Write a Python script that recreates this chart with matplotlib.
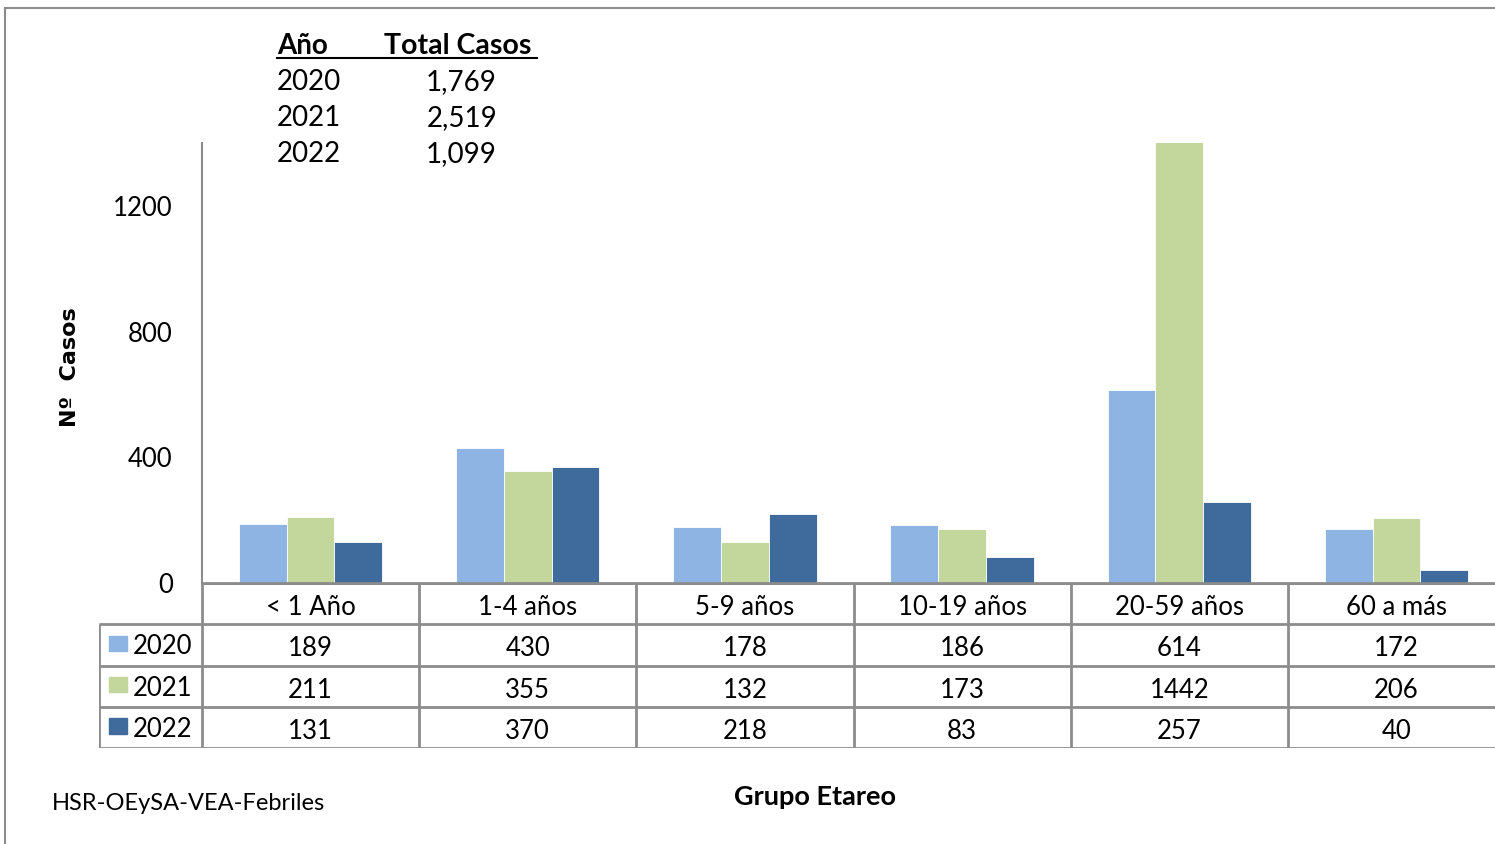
import numpy as np
import matplotlib.pyplot as plt
from matplotlib.lines import Line2D
from matplotlib.patches import Rectangle

# data
grupos = ['< 1 Año', '1-4 años', '5-9 años', '10-19 años', '20-59 años', '60 a más']
anios = ['2020', '2021', '2022']
casos_2020 = [189, 430, 178, 186, 614, 172]
casos_2021 = [211, 355, 132, 173, 1442, 206]
casos_2022 = [131, 370, 218, 83, 257, 40]
totales = ['1,769', '2,519', '1,099']
colores = ['#8EB4E3', '#C3D69B', '#3F6A9C']

plt.rcParams['font.family'] = ['Lato', 'DejaVu Sans']

W, H = 1495, 844
fig = plt.figure(figsize=(W / 100, H / 100), dpi=100)

def fx(px):
    return px / W

def fy(py):
    return 1 - py / H

# outer frame (top and left edges visible)
grey = '#8C8C8C'
fig.add_artist(Line2D([fx(5), 1], [fy(8), fy(8)], color=grey, lw=1.5))
fig.add_artist(Line2D([fx(5), fx(5)], [fy(8), 0], color=grey, lw=1.5))

# main chart
x0, x1 = 202, 1505
ytop, ybot = 143, 583
ax = fig.add_axes([fx(x0), fy(ybot), fx(x1 - x0), (ybot - ytop) / H])
series = [casos_2020, casos_2021, casos_2022]
x = np.arange(len(grupos))
bw = 0.22
for i, (vals, c) in enumerate(zip(series, colores)):
    ax.bar(x + (i - 1) * bw, vals, width=bw, color=c, edgecolor='white', linewidth=0.6)
ax.set_xlim(-0.5, len(grupos) - 0.5)
ax.set_ylim(0, 1400)
ax.set_yticks([0, 400, 800, 1200])
ax.set_yticklabels(['0', '400', '800', '1200'], fontsize=18.5)
ax.tick_params(axis='y', length=0, pad=21)
ax.set_xticks([])
for s in ['top', 'right']:
    ax.spines[s].set_visible(False)
ax.spines['left'].set_color(grey)
ax.spines['bottom'].set_color(grey)
ax.spines['left'].set_linewidth(1.5)
ax.spines['bottom'].set_linewidth(2)

# data table under the chart
tl, tt, tb = 99, 583, 748
lab_w = (x0 - tl) / ((x1 - x0) / len(grupos))
tax = fig.add_axes([fx(tl), fy(tb), fx(x1 - tl), (tb - tt) / H])
tax.set_xlim(-0.5 - lab_w, len(grupos) - 0.5)
tax.set_ylim(4, 0)
tax.axis('off')
lc = dict(color=grey, lw=2, solid_capstyle='butt')
# horizontal lines
tax.plot([-0.5, len(grupos) - 0.5], [0, 0], **lc)
for r in [1, 2, 3, 4]:
    tax.plot([-0.5 - lab_w, len(grupos) - 0.5], [r, r], **lc)
# vertical lines
tax.plot([-0.5 - lab_w, -0.5 - lab_w], [1, 4], **lc)
for k in range(len(grupos) + 1):
    tax.plot([k - 0.5, k - 0.5], [0, 4], **lc)
for k, g in enumerate(grupos):
    tax.text(k, 0.6, g, ha='center', va='center', fontsize=18.5)
for r, (vals, anio, c) in enumerate(zip(series, anios, colores)):
    for k, v in enumerate(vals):
        tax.text(k, r + 1.6, str(v), ha='center', va='center', fontsize=18.5)
    tax.add_patch(Rectangle((-0.5 - lab_w + 0.045, r + 1.28), 0.083, 0.37,
                            color=c, clip_on=False))
    tax.text(-0.5 - lab_w + 0.155, r + 1.55, anio, ha='left', va='center', fontsize=18.5)

# summary of totals
fig.text(fx(277), fy(46), 'Año', fontsize=20, fontweight='bold', ha='left', va='center')
fig.text(fx(384), fy(46), 'Total Casos', fontsize=20.5, fontweight='bold', ha='left', va='center')
fig.add_artist(Line2D([fx(277), fx(537)], [fy(58), fy(58)], color='black', lw=1.5))
for r, (anio, tot) in enumerate(zip(anios, totales)):
    yy = fy(82 + 36 * r)
    fig.text(fx(277), yy, anio, fontsize=20, ha='left', va='center')
    fig.text(fx(497), yy, tot, fontsize=20, ha='right', va='center')

# labels
fig.text(fx(70), fy(367), 'Nº  Casos', fontsize=16, fontweight='bold', rotation=90,
         ha='center', va='center', family='DejaVu Sans')
fig.text(fx(815), fy(797), 'Grupo Etareo', fontsize=19.5, fontweight='bold',
         ha='center', va='center')
fig.text(fx(52), fy(804), 'HSR-OEySA-VEA-Febriles', fontsize=17, ha='left', va='center')

fig.savefig('out.png', dpi=100)
